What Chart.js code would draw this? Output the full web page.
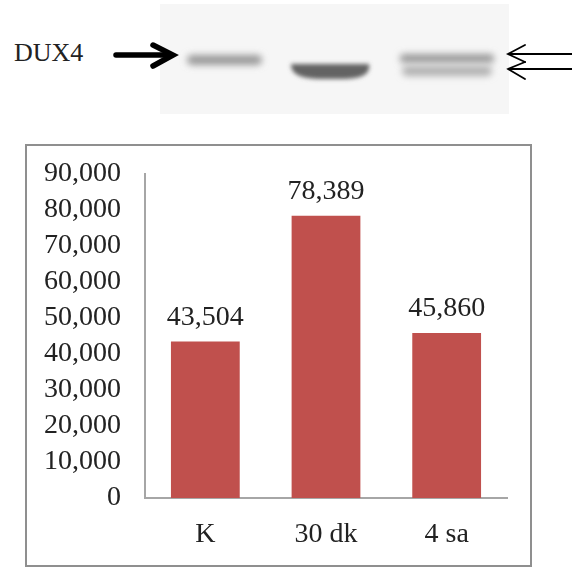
<!DOCTYPE html>
<html>
<head>
<meta charset="utf-8">
<title>DUX4</title>
<script src="https://cdn.jsdelivr.net/npm/chart.js@4"></script>
<style>
    html, body { margin: 0; padding: 0; background: #fff; }
    #page { position: relative; width: 572px; height: 567px; overflow: hidden; }
    #blot { position: absolute; left: 0; top: 0; }
    #label { position: absolute; left: 14px; top: 38px; font: 26px "Liberation Serif", serif; color: #222; }
    #box { position: absolute; left: 25px; top: 144px; width: 503px; height: 419px; border: 2px solid #8f8f8f; }
    #wrap { position: absolute; left: 0; top: 0; width: 572px; height: 567px; }
</style>
</head>
<body>
<div id="page">
    <svg id="blot" width="572" height="130">
        <defs>
            <filter id="soft" x="-30%" y="-200%" width="160%" height="500%"><feGaussianBlur stdDeviation="3.5"/></filter>
            <filter id="tight" x="-30%" y="-100%" width="160%" height="300%"><feGaussianBlur stdDeviation="2"/></filter>
        </defs>
        <rect x="160" y="4" width="349" height="110" fill="#f6f6f6"/>
        <rect x="187" y="55" width="75" height="10" rx="5" fill="#999" filter="url(#soft)"/>
        <path d="M291 64H369Q372 78 345 79H318Q290 78 291 64Z" fill="#636363" filter="url(#tight)"/>
        <rect x="400" y="54" width="94" height="9" rx="4" fill="#999" filter="url(#soft)"/>
        <rect x="402" y="66" width="90" height="10" rx="5" fill="#b0b0b0" filter="url(#soft)"/>
        <g fill="none" stroke="#000" stroke-linecap="round">
            <path d="M116 55H170" stroke-width="5.5"/>
            <path d="M153 45L173 55L153 66" stroke-width="5.5"/>
            <path d="M572 54H508M525 45L508 54L525 62" stroke-width="1.8"/>
            <path d="M572 69H508M525 62L508 69L525 79" stroke-width="1.8"/>
        </g>
    </svg>
    <div id="label">DUX4</div>
    <div id="box"></div>
    <div id="wrap"><canvas id="barChart" width="572" height="567"></canvas></div>
</div>
<script>
"use strict";

const categories = ['K', '30 dk', '4 sa'];
const values = [43504, 78389, 45860];
const yTicks = [0, 10000, 20000, 30000, 40000, 50000, 60000, 70000, 80000, 90000];

const textFont = { family: '"Liberation Serif", serif', size: 28 };

function fmt(v) {
    return Number(v).toLocaleString('en-US');
}

// value labels above the bars
const barLabels = {
    id: 'barLabels',
    afterDatasetsDraw(chart) {
        const ctx = chart.ctx;
        const meta = chart.getDatasetMeta(0);
        ctx.save();
        ctx.font = textFont.size + 'px ' + textFont.family;
        ctx.fillStyle = '#222';
        ctx.textAlign = 'center';
        ctx.textBaseline = 'bottom';
        meta.data.forEach((bar, i) => {
            ctx.fillText(fmt(values[i]), bar.x, bar.y - 10);
        });
        ctx.restore();
    }
};

new Chart(document.getElementById('barChart'), {
    type: 'bar',
    data: {
        labels: categories,
        datasets: [{
            data: values,
            backgroundColor: '#c0504d',
            categoryPercentage: 1,
            barPercentage: 0.57
        }]
    },
    options: {
        responsive: false,
        animation: false,
        layout: { padding: { top: 174, right: 65, bottom: 20, left: 0 } },
        plugins: { legend: { display: false }, tooltip: { enabled: false } },
        scales: {
            x: {
                grid: { display: false },
                border: { color: '#a6a6a6', width: 2 },
                ticks: { color: '#222', font: textFont, padding: 12, maxRotation: 0 },
                afterFit(scale) { scale.height = 49; }
            },
            y: {
                min: 0,
                max: 90000,
                afterBuildTicks(scale) { scale.ticks = yTicks.map(v => ({ value: v })); },
                grid: { display: false },
                border: { color: '#a6a6a6', width: 2 },
                ticks: { color: '#222', font: textFont, padding: 16, autoSkip: false, callback: fmt },
                afterFit(scale) { scale.width = 145; }
            }
        }
    },
    plugins: [barLabels]
});
</script>
</body>
</html>
